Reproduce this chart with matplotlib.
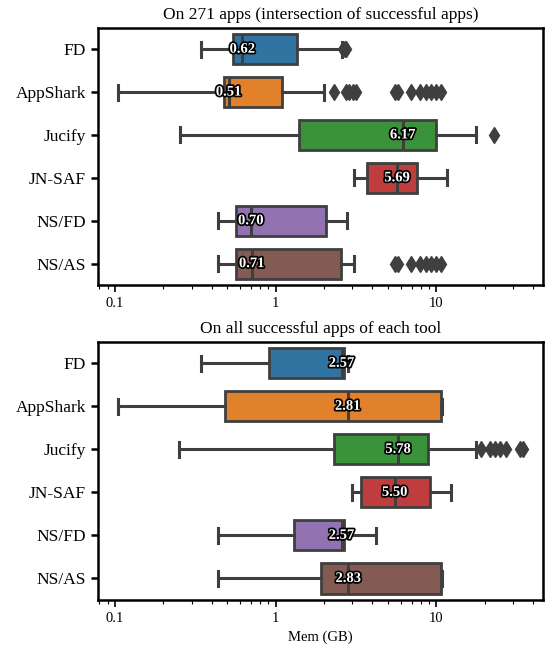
import numpy as np
import matplotlib
matplotlib.use("Agg")
import matplotlib.pyplot as plt
import matplotlib.patheffects as pe
from matplotlib.ticker import FuncFormatter

plt.rcParams['font.family'] = ['Liberation Serif', 'DejaVu Serif']

tools = ["FD", "AppShark", "Jucify", "JN-SAF", "NS/FD", "NS/AS"]
colors = ["#3274a1", "#e1812c", "#3a923a", "#c03d3e", "#9372b2", "#845b53"]

# top panel: on 271 apps (intersection)
top_whislo = [0.344, 0.105, 0.253, 3.05, 0.441, 0.441]
top_q1 = [0.539, 0.479, 1.39, 3.71, 0.567, 0.567]
top_med = [0.62, 0.51, 6.17, 5.69, 0.70, 0.71]
top_q3 = [1.36, 1.09, 10.0, 7.56, 2.05, 2.55]
top_whishi = [2.59, 1.99, 17.5, 11.7, 2.77, 3.08]
top_fliers = [
    [2.62, 2.68, 2.75],
    [2.31, 2.72, 2.86, 3.01, 3.16, 5.5, 5.75, 6.95, 7.95, 8.57, 9.23, 9.95, 10.6],
    [22.9],
    [],
    [],
    [5.5, 5.75, 6.95, 7.95, 8.57, 9.23, 9.95, 10.6],
]

# bottom panel: on all successful apps of each tool
bot_whislo = [0.344, 0.105, 0.249, 2.97, 0.441, 0.441]
bot_q1 = [0.914, 0.483, 2.32, 3.40, 1.30, 1.92]
bot_med = [2.57, 2.81, 5.78, 5.50, 2.57, 2.83]
bot_q3 = [2.66, 10.7, 8.87, 9.14, 2.66, 10.7]
bot_whishi = [2.83, 10.8, 17.7, 12.3, 4.20, 10.8]
bot_fliers = [
    [],
    [],
    [19.0, 21.5, 23.2, 25.0, 27.0, 33.0, 34.5],
    [],
    [],
    [],
]

titles = ["On 271 apps (intersection of successful apps)",
          "On all successful apps of each tool"]

fig = plt.figure(figsize=(5.46, 6.45), dpi=100)
ax1 = fig.add_axes([0.1786, 0.558, 0.816, 0.399])
ax2 = fig.add_axes([0.1786, 0.0698, 0.816, 0.4004])

lc = "#3f3f3f"
panels = [
    (ax1, top_whislo, top_q1, top_med, top_q3, top_whishi, top_fliers),
    (ax2, bot_whislo, bot_q1, bot_med, bot_q3, bot_whishi, bot_fliers),
]

for i, (ax, wlo, q1, med, q3, whi, fl) in enumerate(panels):
    stats = []
    for j in range(len(tools)):
        stats.append(dict(med=med[j], q1=q1[j], q3=q3[j], whislo=wlo[j],
                          whishi=whi[j], fliers=fl[j], label=tools[j]))
    bp = ax.bxp(stats, positions=range(len(tools)), vert=False, widths=0.7,
                patch_artist=True,
                boxprops=dict(edgecolor=lc, linewidth=2),
                whiskerprops=dict(color=lc, linewidth=2.2),
                capprops=dict(color=lc, linewidth=2.2),
                medianprops=dict(color=lc, linewidth=2.2),
                flierprops=dict(marker="d", markerfacecolor=lc,
                                markeredgecolor=lc, markersize=8.5))
    for patch, c in zip(bp["boxes"], colors):
        patch.set_facecolor(c)
    for j in range(len(tools)):
        t = ax.text(med[j], j, f"{med[j]:.2f}", ha="center", va="center",
                    color="white", fontsize=10.5, fontweight="bold")
        t.set_path_effects([pe.Stroke(linewidth=2.5, foreground="black"), pe.Normal()])

    ax.set_xscale("log")
    ax.set_xlim(0.078, 46)
    ax.set_ylim(5.5, -0.5)
    ax.set_yticks(range(len(tools)))
    ax.set_yticklabels(tools, fontsize=12.5)
    ax.xaxis.set_major_formatter(FuncFormatter(lambda v, p: f"{v:g}"))
    ax.tick_params(axis="x", labelsize=10.5, length=5, width=1.2)
    ax.tick_params(axis="x", which="minor", length=3, width=0.8)
    ax.tick_params(axis="y", length=5, width=1.8)
    for s in ax.spines.values():
        s.set_linewidth(1.8)
    ax.set_title(titles[i], fontsize=12.5)

ax2.set_xlabel("Mem (GB)", fontsize=10.5)

fig.savefig("out.png", dpi=100)
